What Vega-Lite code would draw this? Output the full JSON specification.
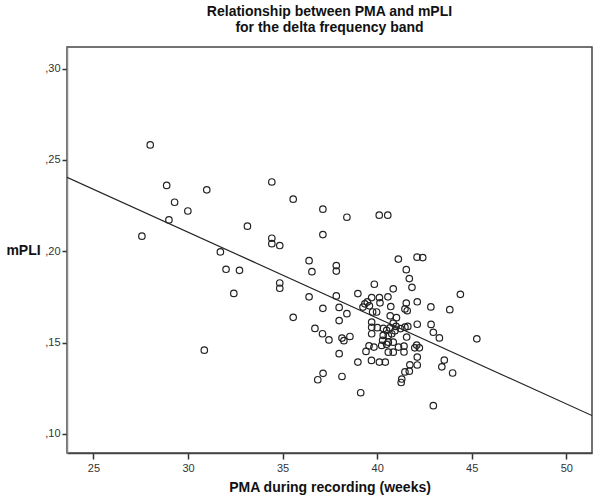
{
  "$schema": "https://vega.github.io/schema/vega-lite/v6.json",
  "description": "Relationship between PMA and mPLI for the delta frequency band",
  "width": 525,
  "height": 406,
  "autosize": {"type": "none"},
  "padding": {"left": 67, "top": 47, "right": 8, "bottom": 47},
  "title": {
    "text": ["Relationship between PMA and mPLI", "for the delta frequency band"],
    "font": "Liberation Sans",
    "fontSize": 14,
    "fontWeight": "bold",
    "color": "#111",
    "lineHeight": 16,
    "offset": 12,
    "anchor": "middle"
  },
  "datasets": {
    "points": [
      {"pma": 28.00, "mpli": 0.2582}, {"pma": 28.87, "mpli": 0.2360}, {"pma": 30.99, "mpli": 0.2336},
      {"pma": 34.43, "mpli": 0.2379}, {"pma": 35.56, "mpli": 0.2285}, {"pma": 29.29, "mpli": 0.2268},
      {"pma": 29.99, "mpli": 0.2220}, {"pma": 28.99, "mpli": 0.2171}, {"pma": 37.13, "mpli": 0.2230},
      {"pma": 38.40, "mpli": 0.2186}, {"pma": 27.56, "mpli": 0.2082}, {"pma": 33.14, "mpli": 0.2137},
      {"pma": 34.43, "mpli": 0.2071}, {"pma": 34.43, "mpli": 0.2041}, {"pma": 34.85, "mpli": 0.2031},
      {"pma": 37.13, "mpli": 0.2091}, {"pma": 31.71, "mpli": 0.1996}, {"pma": 32.01, "mpli": 0.1901},
      {"pma": 32.72, "mpli": 0.1895}, {"pma": 36.40, "mpli": 0.1948}, {"pma": 36.55, "mpli": 0.1888},
      {"pma": 37.84, "mpli": 0.1921}, {"pma": 37.84, "mpli": 0.1891}, {"pma": 34.85, "mpli": 0.1826},
      {"pma": 34.85, "mpli": 0.1797}, {"pma": 32.42, "mpli": 0.1769}, {"pma": 36.40, "mpli": 0.1750},
      {"pma": 37.84, "mpli": 0.1755}, {"pma": 37.13, "mpli": 0.1687}, {"pma": 37.99, "mpli": 0.1692},
      {"pma": 38.40, "mpli": 0.1658}, {"pma": 35.56, "mpli": 0.1638}, {"pma": 37.99, "mpli": 0.1620},
      {"pma": 36.71, "mpli": 0.1577}, {"pma": 30.86, "mpli": 0.1458}, {"pma": 40.11, "mpli": 0.2197},
      {"pma": 40.56, "mpli": 0.2197}, {"pma": 41.12, "mpli": 0.1957}, {"pma": 42.11, "mpli": 0.1967},
      {"pma": 42.41, "mpli": 0.1965}, {"pma": 41.54, "mpli": 0.1899}, {"pma": 41.70, "mpli": 0.1850},
      {"pma": 41.84, "mpli": 0.1802}, {"pma": 39.85, "mpli": 0.1819}, {"pma": 40.85, "mpli": 0.1794},
      {"pma": 44.40, "mpli": 0.1764}, {"pma": 38.98, "mpli": 0.1768}, {"pma": 39.71, "mpli": 0.1746},
      {"pma": 40.12, "mpli": 0.1746}, {"pma": 40.57, "mpli": 0.1750}, {"pma": 39.35, "mpli": 0.1712},
      {"pma": 39.48, "mpli": 0.1722}, {"pma": 39.59, "mpli": 0.1701}, {"pma": 40.15, "mpli": 0.1717},
      {"pma": 40.72, "mpli": 0.1697}, {"pma": 41.54, "mpli": 0.1716}, {"pma": 42.12, "mpli": 0.1723},
      {"pma": 41.47, "mpli": 0.1684}, {"pma": 41.59, "mpli": 0.1674}, {"pma": 42.84, "mpli": 0.1695},
      {"pma": 43.84, "mpli": 0.1680}, {"pma": 39.76, "mpli": 0.1667}, {"pma": 39.97, "mpli": 0.1667},
      {"pma": 40.69, "mpli": 0.1646}, {"pma": 41.02, "mpli": 0.1636}, {"pma": 39.71, "mpli": 0.1612},
      {"pma": 39.71, "mpli": 0.1583}, {"pma": 39.71, "mpli": 0.1548}, {"pma": 40.01, "mpli": 0.1581},
      {"pma": 40.33, "mpli": 0.1577}, {"pma": 40.50, "mpli": 0.1566}, {"pma": 40.68, "mpli": 0.1580},
      {"pma": 40.94, "mpli": 0.1564}, {"pma": 41.00, "mpli": 0.1588}, {"pma": 40.85, "mpli": 0.1606},
      {"pma": 41.24, "mpli": 0.1576}, {"pma": 41.47, "mpli": 0.1584}, {"pma": 41.62, "mpli": 0.1588},
      {"pma": 42.12, "mpli": 0.1600}, {"pma": 42.85, "mpli": 0.1599}, {"pma": 42.97, "mpli": 0.1556},
      {"pma": 43.29, "mpli": 0.1525}, {"pma": 40.32, "mpli": 0.1539}, {"pma": 40.59, "mpli": 0.1539},
      {"pma": 40.77, "mpli": 0.1548}, {"pma": 40.29, "mpli": 0.1512}, {"pma": 40.59, "mpli": 0.1502},
      {"pma": 40.85, "mpli": 0.1502}, {"pma": 41.56, "mpli": 0.1530}, {"pma": 45.27, "mpli": 0.1520},
      {"pma": 37.11, "mpli": 0.1548}, {"pma": 37.45, "mpli": 0.1514}, {"pma": 38.14, "mpli": 0.1524},
      {"pma": 38.24, "mpli": 0.1510}, {"pma": 38.56, "mpli": 0.1533}, {"pma": 39.57, "mpli": 0.1482},
      {"pma": 39.83, "mpli": 0.1475}, {"pma": 39.41, "mpli": 0.1451}, {"pma": 40.50, "mpli": 0.1490},
      {"pma": 40.59, "mpli": 0.1447}, {"pma": 40.85, "mpli": 0.1447}, {"pma": 41.13, "mpli": 0.1475},
      {"pma": 41.42, "mpli": 0.1480}, {"pma": 41.42, "mpli": 0.1448}, {"pma": 41.99, "mpli": 0.1471},
      {"pma": 42.23, "mpli": 0.1471}, {"pma": 42.09, "mpli": 0.1486}, {"pma": 42.12, "mpli": 0.1420},
      {"pma": 42.12, "mpli": 0.1377}, {"pma": 37.99, "mpli": 0.1439}, {"pma": 38.98, "mpli": 0.1393},
      {"pma": 39.70, "mpli": 0.1402}, {"pma": 40.12, "mpli": 0.1393}, {"pma": 40.43, "mpli": 0.1393},
      {"pma": 41.73, "mpli": 0.1378}, {"pma": 41.47, "mpli": 0.1339}, {"pma": 41.70, "mpli": 0.1343},
      {"pma": 41.30, "mpli": 0.1300}, {"pma": 41.27, "mpli": 0.1281}, {"pma": 43.55, "mpli": 0.1404},
      {"pma": 43.42, "mpli": 0.1367}, {"pma": 43.99, "mpli": 0.1333}, {"pma": 37.14, "mpli": 0.1331},
      {"pma": 36.86, "mpli": 0.1296}, {"pma": 38.14, "mpli": 0.1314}, {"pma": 39.13, "mpli": 0.1225},
      {"pma": 42.97, "mpli": 0.1154}, {"pma": 39.25, "mpli": 0.1694}, {"pma": 40.24, "mpli": 0.1484}
    ],
    "fit": [
      {"pma": 23.6, "mpli": 0.2405},
      {"pma": 51.36, "mpli": 0.110}
    ]
  },
  "layer": [
    {
      "data": {"name": "points"},
      "mark": {"type": "point", "shape": "circle", "filled": false, "size": 42, "strokeWidth": 1.2, "color": "#222", "opacity": 1},
      "encoding": {
        "x": {
          "field": "pma",
          "type": "quantitative",
          "scale": {"domain": [23.6, 51.36], "nice": false, "zero": false},
          "axis": {
            "title": "PMA during recording (weeks)",
            "values": [25, 30, 35, 40, 45, 50],
            "tickSize": 6,
            "labelPadding": 3,
            "titlePadding": 7,
            "domainColor": "#444",
            "domainWidth": 1.5
          }
        },
        "y": {
          "field": "mpli",
          "type": "quantitative",
          "scale": {"domain": [0.0895, 0.3118], "nice": false, "zero": false},
          "axis": {
            "title": "mPLI",
            "values": [0.10, 0.15, 0.20, 0.25, 0.30],
            "labelExpr": "',' + substring(format(datum.value, '.2f'), 2)",
            "tickSize": 5,
            "labelPadding": 2,
            "titleAngle": 0,
            "titleX": -44,
            "titleY": 203,
            "titleAlign": "center",
            "titleBaseline": "middle",
            "domainColor": "#888",
            "domainWidth": 1.5
          }
        }
      }
    },
    {
      "data": {"name": "fit"},
      "mark": {"type": "line", "color": "#222", "strokeWidth": 1.2, "clip": true},
      "encoding": {
        "x": {"field": "pma", "type": "quantitative"},
        "y": {"field": "mpli", "type": "quantitative"}
      }
    }
  ],
  "config": {
    "view": {"stroke": "#444", "strokeWidth": 1.5},
    "axis": {
      "grid": false,
      "labelFont": "Liberation Sans",
      "labelFontSize": 11,
      "labelColor": "#333",
      "tickColor": "#333",
      "tickWidth": 1.5,
      "titleFont": "Liberation Sans",
      "titleFontSize": 14,
      "titleFontWeight": "bold",
      "titleColor": "#111"
    }
  }
}
